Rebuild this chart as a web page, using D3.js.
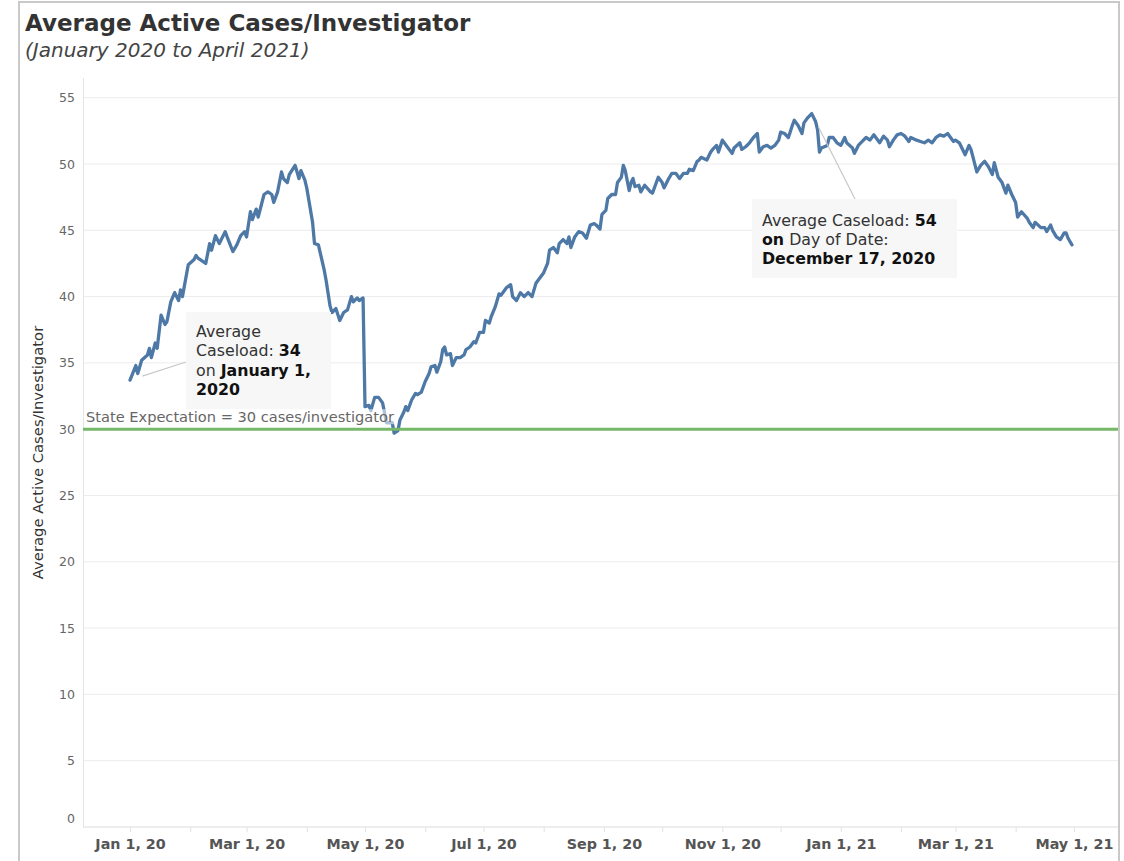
<!DOCTYPE html>
<html>
<head>
<meta charset="utf-8">
<script src="https://cdn.jsdelivr.net/npm/d3@7"></script>
<style>
  body { margin: 0; background: #fff; }
  text { font-family: "DejaVu Sans", Verdana, sans-serif; }
</style>
</head>
<body>
<svg id="chart" width="1124" height="861"></svg>
<script>
// ---------------- DATA ----------------
const chartTitle = "Average Active Cases/Investigator";
const chartSubtitle = "(January 2020 to April 2021)";
const yAxisTitle = "Average Active Cases/Investigator";
const startDate = "2020-01-01";
// days since Jan 1, 2020
const dayOffset = [
  0,3,4,6,9,10,11,13,14,16,18,19,21,23,25,26,27,30,33,34,35,39,41,42,44,46,49,50,53,55,
  57,59,60,62,63,65,66,69,71,73,74,76,78,79,81,82,85,87,88,90,91,94,95,97,100,101,103,104,106,108,
  110,112,114,115,117,118,120,121,123,124,126,128,130,131,132,135,136,138,139,141,142,143,145,147,148,150,152,154,155,157,
  158,160,161,162,163,165,166,168,170,172,173,175,177,178,180,182,183,185,186,188,190,191,194,196,197,199,201,203,205,207,
  209,211,213,215,216,218,220,221,223,225,226,227,229,231,233,235,237,239,240,242,243,245,246,248,250,251,253,254,255,257,
  258,259,260,262,263,265,268,269,272,274,275,277,279,281,283,285,287,288,290,292,293,294,297,299,300,302,303,305,307,310,
  311,314,315,317,319,321,323,324,326,328,330,332,334,335,337,339,341,342,344,346,347,349,351,353,354,355,356,359,360,362,
  364,366,368,369,372,373,375,377,379,381,383,384,386,388,390,391,393,395,397,399,401,402,405,407,409,411,413,415,417,419,
  421,422,424,425,427,430,432,433,436,438,440,442,444,445,447,449,451,452,454,456,457,459,462,463,465,466,469,471,472,474,
  475,477,479,481,482,483,485
];
const caseload = [
  33.7,34.8,34.2,35.2,35.6,36.1,35.4,36.5,36.1,38.6,37.9,38.1,39.6,40.3,39.7,40.5,40.0,42.4,42.8,43.1,42.9,42.5,44.0,43.5,44.6,44.0,44.9,44.5,43.4,43.9,
  44.6,44.9,44.5,46.4,45.8,46.6,46.0,47.7,47.9,47.7,47.1,47.9,49.4,48.9,48.6,49.2,49.9,48.9,49.5,48.8,48.2,45.6,44.0,43.9,42.0,41.2,39.3,38.8,39.1,38.2,
  38.8,39.0,40.0,39.6,39.9,39.7,39.9,31.7,31.8,31.4,32.4,32.4,32.0,31.3,30.5,30.5,29.7,29.9,30.7,31.3,31.7,31.4,32.2,32.7,32.6,32.8,33.6,34.2,34.7,34.8,
  34.3,35.1,36.0,36.2,35.6,35.7,34.8,35.4,35.4,35.6,36.0,36.2,36.6,36.5,37.3,37.3,38.2,38.0,38.5,39.2,40.2,40.1,40.7,40.9,40.0,39.7,40.3,40.0,40.3,40.0,
  41.0,41.4,41.8,42.5,43.5,43.7,43.3,44.0,44.3,44.0,44.5,43.7,44.5,44.9,44.8,44.4,45.4,45.5,45.4,45.1,46.2,46.5,47.4,47.7,47.7,48.6,49.0,49.9,49.5,48.0,
  48.6,48.9,48.3,48.4,47.9,48.4,47.9,47.8,49.0,48.6,48.2,48.8,49.3,49.3,48.9,49.3,49.3,49.6,49.5,50.2,50.3,50.5,50.3,50.9,51.1,51.4,50.9,51.8,51.4,50.8,
  51.2,51.6,51.1,51.3,51.6,52.0,52.3,50.9,51.3,51.4,51.2,51.4,51.8,52.4,52.3,52.0,52.9,53.3,52.9,52.3,53.1,53.5,53.8,53.2,52.6,50.9,51.2,51.4,52.0,52.0,
  51.6,51.4,52.0,51.6,51.2,50.8,51.4,51.7,52.0,51.8,52.2,52.0,51.6,52.1,51.8,51.3,51.8,52.2,52.3,52.1,51.7,52.0,51.8,51.7,51.6,51.8,51.6,52.0,52.2,52.1,
  52.3,52.1,51.7,51.8,51.6,50.7,51.4,51.1,49.4,49.9,50.2,49.8,49.2,50.1,49.0,48.6,47.8,48.4,47.7,47.1,46.0,46.4,45.9,45.6,45.2,45.6,45.2,45.2,44.9,45.4,
  45.0,44.5,44.3,44.8,44.8,44.4,43.9
];
const yTickValues = [0, 5, 10, 15, 20, 25, 30, 35, 40, 45, 50, 55];
const expectationValue = 30;
const expectationLabel = "State Expectation = 30 cases/investigator";
// annotation lines: [text, bold]
const annoStartLines = [
  [["Average", false]],
  [["Caseload: ", false], ["34", true]],
  [["on ", false], ["January 1,", true]],
  [["2020", true]]
];
const annoStartDay = 0;
const annoPeakLines = [
  [["Average Caseload: ", false], ["54", true]],
  [["on", true], [" Day of Date:", false]],
  [["December 17, 2020", true]]
];
const annoPeakDay = 351;

// ---------------- LAYOUT ----------------
const svg = d3.select("#chart");
const plot = { left: 83, right: 1118, top: 78, bottom: 827 };
const DAY = 864e5;
const t0 = Date.parse(startDate + "T00:00:00Z");
const data = dayOffset.map((d, i) => ({ date: new Date(t0 + d * DAY), value: caseload[i] }));

const x = d3.scaleUtc()
  .domain([new Date(t0 - 24.2 * DAY), new Date(t0 + 508.7 * DAY)])
  .range([plot.left, plot.right]);
const y = d3.scaleLinear().domain([0, 55]).range([plot.bottom, 97.7]);

// outer frame
svg.append("rect").attr("x", 19).attr("y", 2).attr("width", 1100).attr("height", 900)
  .attr("fill", "#fff").attr("stroke", "#c9c9c9").attr("stroke-width", 2);

// title
svg.append("text").attr("x", 25).attr("y", 31)
  .attr("font-size", 23).attr("font-weight", "bold").attr("fill", "#333")
  .text(chartTitle);
svg.append("text").attr("x", 25).attr("y", 57)
  .attr("font-size", 20).attr("font-style", "italic").attr("fill", "#444")
  .text(chartSubtitle);

// gridlines
svg.append("g").selectAll("line").data(yTickValues).join("line")
  .attr("x1", plot.left).attr("x2", plot.right)
  .attr("y1", d => y(d)).attr("y2", d => y(d))
  .attr("stroke", "#ececec").attr("stroke-width", 1);

// left axis line
svg.append("line").attr("x1", plot.left + 0.5).attr("x2", plot.left + 0.5)
  .attr("y1", plot.top).attr("y2", plot.bottom)
  .attr("stroke", "#e4e4e4");

// y axis
const yAxis = svg.append("g").attr("transform", `translate(${plot.left},0)`)
  .call(d3.axisLeft(y).tickValues(yTickValues).tickSize(0).tickPadding(8));
yAxis.select(".domain").remove();
yAxis.selectAll("text")
  .attr("font-family", "DejaVu Sans, Verdana, sans-serif")
  .attr("font-size", 12.5).attr("fill", "#666")
  .attr("dy", d => d === 0 ? "-0.4em" : "0.32em");

// y axis title
svg.append("text")
  .attr("transform", `translate(43,${(plot.top + plot.bottom) / 2}) rotate(-90)`)
  .attr("text-anchor", "middle").attr("font-size", 14.8).attr("fill", "#333")
  .text(yAxisTitle);

// x axis
const xAxisG = svg.append("g").attr("transform", `translate(0,${plot.bottom})`);
xAxisG.append("line").attr("x1", plot.left).attr("x2", plot.right)
  .attr("stroke", "#e6e6e6");
xAxisG.call(d3.axisBottom(x).ticks(d3.utcMonth.every(1)).tickSize(5).tickFormat(""));
xAxisG.select(".domain").remove();
xAxisG.selectAll(".tick line").attr("stroke", "#e2e2e2");
const xLabels = svg.append("g").attr("transform", `translate(0,${plot.bottom})`)
  .call(d3.axisBottom(x).ticks(d3.utcMonth.every(2)).tickSize(0).tickPadding(12)
    .tickFormat(d3.utcFormat("%b %-d, %y")));
xLabels.select(".domain").remove();
xLabels.selectAll("text")
  .attr("font-family", "DejaVu Sans Condensed, DejaVu Sans, sans-serif")
  .attr("font-weight", "bold").attr("font-size", 14.3).attr("fill", "#555");

// main line
svg.append("path").datum(data)
  .attr("fill", "none").attr("stroke", "#4e79a7").attr("stroke-width", 3.3)
  .attr("stroke-linejoin", "round").attr("stroke-linecap", "round")
  .attr("d", d3.line().x(d => x(d.date)).y(d => y(d.value)));

// expectation line & label
svg.append("line").attr("x1", plot.left).attr("x2", plot.right)
  .attr("y1", y(expectationValue)).attr("y2", y(expectationValue))
  .attr("stroke", "#76b768").attr("stroke-width", 3);
const expText = svg.append("text").attr("x", 86).attr("y", y(expectationValue) - 7)
  .attr("font-size", 14.6).attr("fill", "#666").text(expectationLabel);
const eb = expText.node().getBBox();
svg.insert("rect", () => expText.node())
  .attr("x", eb.x - 1).attr("y", eb.y + 1).attr("width", eb.width + 2).attr("height", eb.height - 2)
  .attr("fill", "#fff").attr("opacity", 0.55);

// annotations
function annotate(lines, day, box, gap) {
  const pd = data.find(d => +d.date === t0 + day * DAY);
  const px = x(pd.date), py = y(pd.value);
  const tx = box.lx, ty = box.ly;
  const len = Math.hypot(tx - px, ty - py);
  svg.append("line")
    .attr("x1", px + (tx - px) * gap / len).attr("y1", py + (ty - py) * gap / len)
    .attr("x2", tx).attr("y2", ty)
    .attr("stroke", "#c8c8c8").attr("stroke-width", 1.2);
  svg.append("rect").attr("x", box.x).attr("y", box.y).attr("width", box.w).attr("height", box.h)
    .attr("fill", "#f7f7f7");
  const t = svg.append("text").attr("font-size", 15.8).attr("fill", "#333");
  lines.forEach((segs, i) => {
    segs.forEach((s, j) => {
      const ts = t.append("tspan").text(s[0])
        .attr("font-weight", s[1] ? "bold" : "normal")
        .attr("fill", s[1] ? "#111" : "#333");
      if (j === 0) ts.attr("x", box.x + 10).attr("y", box.firstBaseline + i * box.lh);
    });
  });
}
annotate(annoStartLines, annoStartDay,
  { x: 186, y: 312, w: 145, h: 97, lx: 186, ly: 362, firstBaseline: 337, lh: 19.3 }, 13);
annotate(annoPeakLines, annoPeakDay,
  { x: 752, y: 199, w: 205, h: 79, lx: 855, ly: 199, firstBaseline: 225.5, lh: 19.3 }, 15);
</script>
</body>
</html>
